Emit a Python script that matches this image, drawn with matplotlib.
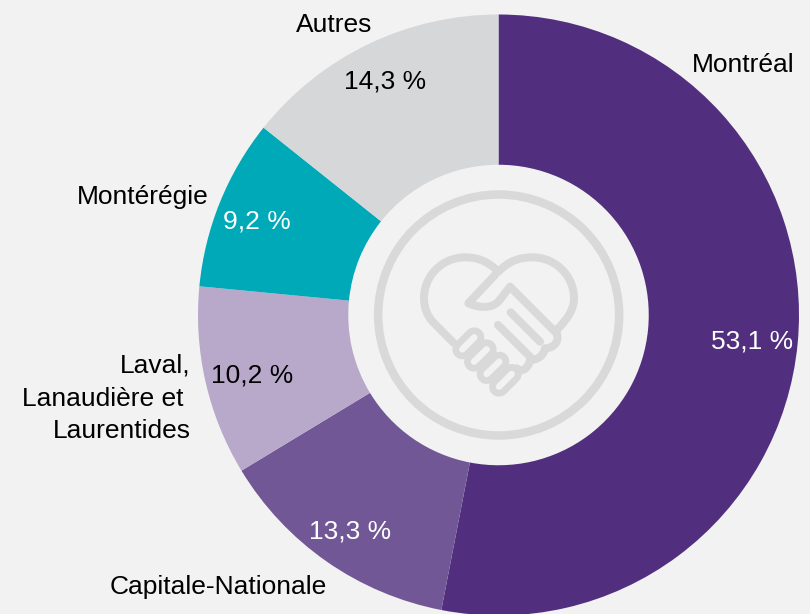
import matplotlib
matplotlib.use("Agg")
import matplotlib.pyplot as plt
from matplotlib.path import Path
from matplotlib.patches import PathPatch, Circle

W, H = 810, 614
DPI = 100
BG = "#F2F2F2"
ICON = "#D9D9D9"

regions = ["Montréal", "Capitale-Nationale", "Laval,\nLanaudière et \nLaurentides", "Montérégie", "Autres"]
shares = [53.1, 13.3, 10.2, 9.2, 14.3]
share_labels = ["53,1 %", "13,3 %", "10,2 %", "9,2 %", "14,3 %"]
colors = ["#512F7E", "#725797", "#B8A9CB", "#00A9B7", "#D6D7D9"]
value_colors = ["white", "white", "black", "white", "black"]

plt.rcParams["font.family"] = ["Liberation Sans", "DejaVu Sans"]
FS = 19

fig = plt.figure(figsize=(W / DPI, H / DPI), dpi=DPI, facecolor=BG)
ax = fig.add_axes([0, 0, 1, 1])
ax.set_xlim(0, W)
ax.set_ylim(0, H)
ax.set_aspect("equal")
ax.axis("off")

CX, CY, R = 498.5, 315, 300.5


def py(y):
    return H - y


ax.pie(shares, colors=colors, startangle=90, counterclock=False,
       center=(CX, py(CY)), radius=R, frame=True, normalize=True,
       wedgeprops=dict(width=R / 2, linewidth=0))
ax.set_xlim(0, W)
ax.set_ylim(0, H)
ax.axis("off")

name_pos = [(743.5, 65), (218, 587), None, (143, 197), (334.5, 25)]
value_pos = [(752, 342), (350, 532), (252, 375), (257, 222), (385, 81)]
for name, pos in zip(regions, name_pos):
    if pos is not None:
        ax.text(pos[0], py(pos[1]), name, ha="center", va="center", fontsize=FS, color="black")
for line, x, y in zip(regions[2].split("\n"), [191, 191, 191], [366, 399, 431]):
    ax.text(x, py(y), line, ha="right", va="center", fontsize=FS, color="black")
for lab, col, pos in zip(share_labels, value_colors, value_pos):
    ax.text(pos[0], py(pos[1]), lab, ha="center", va="center", fontsize=FS, color=col)


# Decorative handshake-heart icon (zoomed crop coordinates mapped to pixels)
def z(x, y):
    return (340 + x / 3, py(160 + y / 3))


def lw(px):
    return px * 72 / DPI


ax.add_patch(Circle(z(476, 465), 120.5, fill=False, ec=ICON, lw=lw(8.5), zorder=5))


def stroke(points, codes=None, color=ICON, w=8, z_order=6):
    verts = [z(*p) for p in points]
    if codes is None:
        codes = [Path.MOVETO] + [Path.LINETO] * (len(verts) - 1)
    ax.add_patch(PathPatch(Path(verts, codes), fill=False, ec=color, lw=lw(w),
                           capstyle="round", joinstyle="round", zorder=z_order))


C = Path.CURVE4
M = Path.MOVETO
L = Path.LINETO

# left lobe of the heart
stroke([(340, 548), (278, 485), (262, 468), (252, 443), (252, 415), (252, 347), (307, 292), (375, 292),
        (415, 292), (445, 305), (475, 335)],
       [M, L, C, C, C, C, C, C, C, C, C])
# right lobe of the heart
stroke([(475, 335), (505, 305), (535, 292), (578, 292), (646, 292), (702, 347), (702, 415),
        (702, 450), (680, 480), (650, 510)],
       [M, C, C, C, C, C, C, C, C, C])
# thumb and upper edge of the right hand
stroke([(465, 345), (385, 430), (420, 445), (455, 445), (475, 425), (510, 380), (650, 520)],
       [M, L, C, C, C, L, L])
# right-hand fingers
stroke([(512, 457), (625, 535)][:1] + [(600, 545)])
stroke([(474, 495), (570, 590)])
# right-hand knuckles
stroke([(650, 520), (660, 545), (640, 565), (615, 565), (610, 590), (590, 600), (570, 600),
        (565, 625), (545, 640), (530, 625)],
       [M, C, C, C, C, C, C, C, C, C])
# left-hand fingers, as outlined capsules
fingers = [((367, 568), (403, 532)), ((402, 605), (440, 568)),
           ((440, 642), (478, 605)), ((477, 680), (515, 642))]
for a, b in fingers:
    stroke([a, b], w=20, z_order=6)
for a, b in fingers:
    stroke([a, b], color=BG, w=6.5, z_order=7)

fig.savefig("out.png", dpi=DPI, facecolor=BG)
